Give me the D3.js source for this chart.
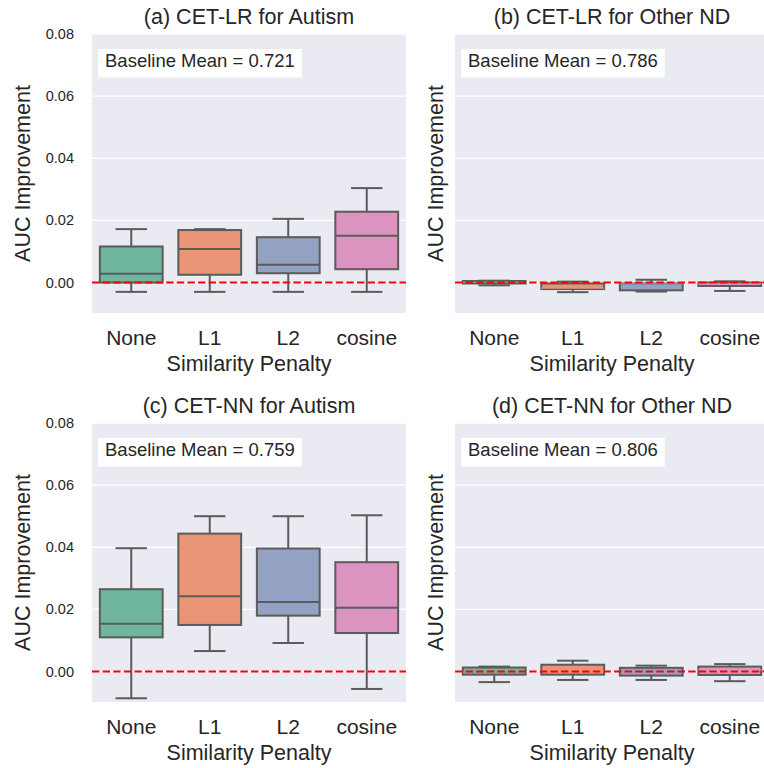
<!DOCTYPE html>
<html>
<head>
<meta charset="utf-8">
<script src="https://cdn.jsdelivr.net/npm/d3@7"></script>
<style>
  body { margin: 0; background: #fff; }
  svg { display: block; font-family: "Liberation Sans", Arial, sans-serif; }
</style>
</head>
<body>
<svg id="chart" width="764" height="768"></svg>
<script>
// categories and stats: [whiskerLow, q1, median, q3, whiskerHigh]
const penalties = ['None', 'L1', 'L2', 'cosine'];
const titles = ['(a) CET-LR for Autism', '(b) CET-LR for Other ND', '(c) CET-NN for Autism', '(d) CET-NN for Other ND'];
const baselines = ['0.721', '0.786', '0.759', '0.806'];
const yTicks = [0, 0.02, 0.04, 0.06, 0.08];
const colors = ['#70b69f', '#e99575', '#93a2c3', '#db93c0'];

const lrAutism = [
  [-0.003, 0.0, 0.0028, 0.0116, 0.0172],
  [-0.003, 0.0025, 0.0108, 0.0169, 0.0172],
  [-0.003, 0.003, 0.0057, 0.0146, 0.0205],
  [-0.003, 0.0043, 0.0151, 0.0228, 0.0304]
];
const lrOther = [
  [-0.0009, -0.0003, 0.0001, 0.0005, 0.0006],
  [-0.0031, -0.0021, -0.0018, -0.0003, 0.0003],
  [-0.0029, -0.0025, -0.0004, -0.0003, 0.0009],
  [-0.0027, -0.0011, -0.0004, 0.0, 0.0004]
];
const nnAutism = [
  [-0.0086, 0.011, 0.0154, 0.0265, 0.0397],
  [0.0066, 0.015, 0.0242, 0.0444, 0.05],
  [0.0092, 0.018, 0.0224, 0.0396, 0.05],
  [-0.0056, 0.0124, 0.0205, 0.0352, 0.0503]
];
const nnOther = [
  [-0.0034, -0.001, -0.0002, 0.0013, 0.0016],
  [-0.0027, -0.001, 0.0002, 0.0022, 0.0035],
  [-0.0027, -0.0013, 0.0, 0.0012, 0.0019],
  [-0.0031, -0.0011, 0.0006, 0.0016, 0.0024]
];
const panelData = [lrAutism, lrOther, nnAutism, nnOther];

const svg = d3.select('#chart');
const W = 314, H = 279;
const origins = [[92, 34], [455, 34], [92, 423], [455, 423]];
const lineColor = '#5b5b5b';

panelData.forEach((stats, i) => {
  const [left, top] = origins[i];
  const g = svg.append('g').attr('transform', `translate(${left},${top})`);
  const x = d3.scaleBand().domain(penalties).range([0, W]).padding(0);
  const y = d3.scaleLinear().domain([-0.0098, 0.08]).range([H, 0]);

  g.append('rect').attr('width', W).attr('height', H).attr('fill', '#eaeaf2');

  g.selectAll('line.grid')
    .data(yTicks)
    .enter()
    .append('line')
    .attr('class', 'grid')
    .attr('x1', 0)
    .attr('x2', W)
    .attr('y1', d => y(d))
    .attr('y2', d => y(d))
    .attr('stroke', '#fff')
    .attr('stroke-width', 1.3);

  if (i % 2 === 0) {
    g.selectAll('text.ytick')
      .data(yTicks)
      .enter()
      .append('text')
      .attr('class', 'ytick')
      .attr('x', -18)
      .attr('y', d => y(d))
      .attr('dy', '0.35em')
      .attr('text-anchor', 'end')
      .attr('font-size', 14.5)
      .attr('fill', '#262626')
      .text(d => d.toFixed(2));
  }

  const boxW = x.bandwidth() * 0.8;
  const capW = boxW / 2;
  const boxes = g.selectAll('g.box')
    .data(stats)
    .enter()
    .append('g')
    .attr('class', 'box')
    .attr('transform', (d, j) => `translate(${x(penalties[j]) + x.bandwidth() / 2},0)`);

  // whiskers
  boxes.append('line')
    .attr('x1', 0).attr('x2', 0)
    .attr('y1', d => y(d[0])).attr('y2', d => y(d[1]))
    .attr('stroke', lineColor).attr('stroke-width', 2);
  boxes.append('line')
    .attr('x1', 0).attr('x2', 0)
    .attr('y1', d => y(d[3])).attr('y2', d => y(d[4]))
    .attr('stroke', lineColor).attr('stroke-width', 2);
  boxes.append('line')
    .attr('x1', -capW / 2).attr('x2', capW / 2)
    .attr('y1', d => y(d[0])).attr('y2', d => y(d[0]))
    .attr('stroke', lineColor).attr('stroke-width', 2);
  boxes.append('line')
    .attr('x1', -capW / 2).attr('x2', capW / 2)
    .attr('y1', d => y(d[4])).attr('y2', d => y(d[4]))
    .attr('stroke', lineColor).attr('stroke-width', 2);
  boxes.append('rect')
    .attr('x', -boxW / 2)
    .attr('width', boxW)
    .attr('y', d => y(d[3]))
    .attr('height', d => Math.max(0.5, y(d[1]) - y(d[3])))
    .attr('fill', (d, j) => colors[j])
    .attr('stroke', lineColor)
    .attr('stroke-width', 2);
  boxes.append('line')
    .attr('x1', -boxW / 2).attr('x2', boxW / 2)
    .attr('y1', d => y(d[2])).attr('y2', d => y(d[2]))
    .attr('stroke', (d, j) => (i % 2 === 1 ? colors[j] : lineColor))
    .attr('stroke-width', i % 2 === 1 ? 1.2 : 2);

  // zero reference line
  g.append('line')
    .attr('x1', 0).attr('x2', W)
    .attr('y1', y(0)).attr('y2', y(0))
    .attr('stroke', 'red')
    .attr('stroke-width', 2)
    .attr('stroke-dasharray', '7.4,3.2');

  // baseline annotation
  const ann = g.append('g').attr('transform', 'translate(6,15)');
  const annText = ann.append('text')
    .attr('x', 7)
    .attr('y', 18)
    .attr('font-size', 18.5)
    .attr('fill', '#262626')
    .text(`Baseline Mean = ${baselines[i]}`);
  const bb = annText.node().getBBox();
  ann.insert('rect', 'text')
    .attr('x', 0).attr('y', 0)
    .attr('width', bb.width + 14)
    .attr('height', 28.5)
    .attr('fill', '#fff');

  g.selectAll('text.xtick')
    .data(penalties)
    .enter()
    .append('text')
    .attr('class', 'xtick')
    .attr('x', d => x(d) + x.bandwidth() / 2)
    .attr('y', H + 32)
    .attr('text-anchor', 'middle')
    .attr('font-size', 21)
    .attr('fill', '#262626')
    .text(d => d);

  g.append('text')
    .attr('x', W / 2)
    .attr('y', H + 58)
    .attr('text-anchor', 'middle')
    .attr('font-size', 21.5)
    .attr('fill', '#262626')
    .text('Similarity Penalty');

  g.append('text')
    .attr('transform', `translate(${i % 2 === 0 ? -62 : -12},${H / 2}) rotate(-90)`)
    .attr('text-anchor', 'middle')
    .attr('font-size', 21.5)
    .attr('fill', '#262626')
    .text('AUC Improvement');

  g.append('text')
    .attr('x', W / 2)
    .attr('y', -10)
    .attr('text-anchor', 'middle')
    .attr('font-size', 21.5)
    .attr('fill', '#262626')
    .text(titles[i]);
});
</script>
</body>
</html>
